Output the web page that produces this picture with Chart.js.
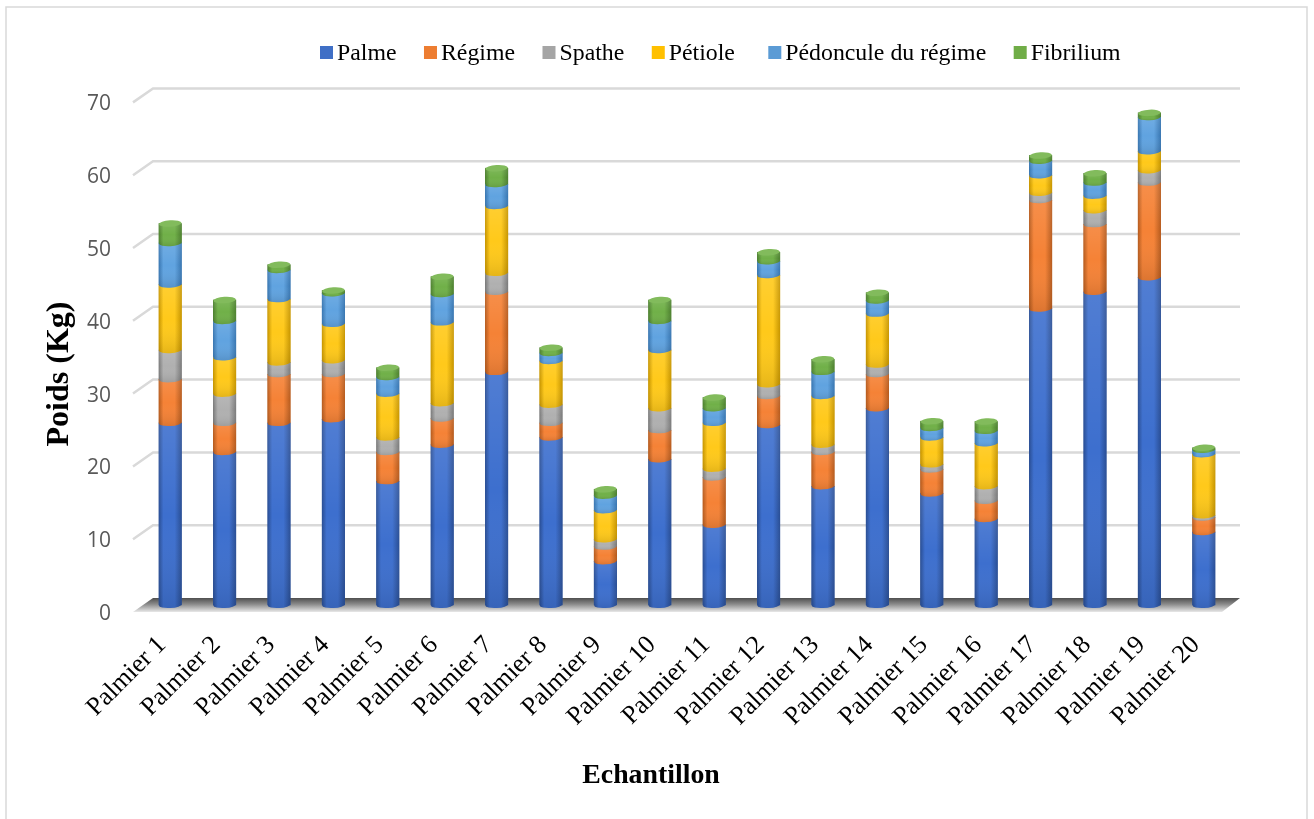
<!DOCTYPE html>
<html lang="fr">
<head>
<meta charset="utf-8">
<title>Poids par palmier</title>
<script src="https://cdn.jsdelivr.net/npm/chart.js@4"></script>
<style>
  body { margin: 0; background: #fff; }
  canvas { display: block; }
</style>
</head>
<body>
<canvas id="poidsChart" width="1314" height="819"></canvas>
<script>
const categories = ['Palmier 1', 'Palmier 2', 'Palmier 3', 'Palmier 4', 'Palmier 5', 'Palmier 6', 'Palmier 7', 'Palmier 8', 'Palmier 9', 'Palmier 10',
  'Palmier 11', 'Palmier 12', 'Palmier 13', 'Palmier 14', 'Palmier 15', 'Palmier 16', 'Palmier 17', 'Palmier 18', 'Palmier 19', 'Palmier 20'];
const palme = [25, 21, 25, 25.5, 17, 22, 32, 23, 6, 20, 11, 24.7, 16.3, 27, 15.3, 11.8, 40.7, 43, 45, 10];
const regime = [6, 4, 6.7, 6.2, 4, 3.6, 11, 2, 2, 4, 6.5, 4, 4.7, 4.7, 3.3, 2.5, 14.9, 9.3, 13, 2];
const spathe = [4, 4, 1.6, 1.9, 2, 2.1, 2.6, 2.5, 1, 3, 1.2, 1.6, 1, 1.3, 0.7, 2, 1, 1.9, 1.7, 0.3];
const petiole = [9, 5, 8.7, 5, 6, 11.1, 9.2, 6, 4, 8, 6.3, 15, 6.7, 7, 3.7, 5.9, 2.4, 2, 2.6, 8.4];
const pedoncule = [5.7, 5, 4, 4.2, 2.3, 3.9, 3, 1.1, 2, 4, 2, 1.9, 3.3, 1.8, 1.3, 1.7, 2, 1.8, 4.7, 0.6];
const fibrilium = [2.7, 2.9, 0.75, 0.4, 1.3, 2.4, 2.2, 0.75, 0.9, 2.9, 1.5, 1.25, 1.75, 1.1, 0.95, 1.3, 0.75, 1.3, 0.6, 0.3];
const yTicks = [0, 10, 20, 30, 40, 50, 60, 70];

const SERIF = '"Liberation Serif", serif';
const BAR_W = 22.5;

// each colour is [edge, centre] of the cylinder
function cylinder(edge, centre) {
  return function (c) {
    const x = c.chart.scales.x.getPixelForValue(c.dataIndex);
    if (!Number.isFinite(x)) return centre; // scales not laid out yet
    const g = c.chart.ctx.createLinearGradient(x - BAR_W / 2, 0, x + BAR_W / 2, 0);
    g.addColorStop(0, edge);
    g.addColorStop(0.2, centre);
    g.addColorStop(0.7, centre);
    g.addColorStop(1, edge);
    return g;
  };
}

function serie(label, data, edge, centre, legendColor, capColor) {
  return {
    label: label, data: data, yAxisID: 'y',
    backgroundColor: cylinder(edge, centre),
    barThickness: BAR_W, borderWidth: 0,
    legendColor: legendColor, capColor: capColor
  };
}

// back wall gridlines and the floor, offset from the bars' plane
const walls = {
  id: 'walls',
  beforeDatasetsDraw(chart) {
    const { ctx, chartArea: a, scales } = chart;
    const y = scales.y;
    ctx.save();
    ctx.strokeStyle = '#d9d9d9';
    ctx.lineWidth = 2.5;
    yTicks.forEach(v => {
      if (v === 0) return;
      const p = y.getPixelForValue(v);
      ctx.beginPath();
      ctx.moveTo(a.left - 10, p + 7);
      ctx.lineTo(a.left + 10, p - 7);
      ctx.lineTo(a.right + 9, p - 7);
      ctx.stroke();
    });
    const p0 = y.getPixelForValue(0);
    const g = ctx.createLinearGradient(0, p0 - 7, 0, p0 + 7);
    g.addColorStop(0, '#4f4f4f');
    g.addColorStop(0.45, '#8c8c8c');
    g.addColorStop(1, '#e8e8e8');
    ctx.fillStyle = g;
    ctx.beginPath();
    ctx.moveTo(a.left + 10, p0 - 7);
    ctx.lineTo(a.right + 9, p0 - 7);
    ctx.lineTo(a.right - 9, p0 + 7);
    ctx.lineTo(a.left - 10, p0 + 7);
    ctx.closePath();
    ctx.fill();
    ctx.restore();
  }
};

// repaint each segment as a piece of cylinder, bottom one first, then the top caps
const rounds = {
  id: 'rounds',
  afterDatasetsDraw(chart) {
    const ctx = chart.ctx;
    const last = chart.data.datasets.length - 1;
    ctx.save();
    chart.data.datasets.forEach((ds, i) => {
      chart.getDatasetMeta(i).data.forEach(el => {
        const r = el.width / 2;
        ctx.beginPath();
        ctx.rect(el.x - r, el.y, el.width, el.base - el.y);
        ctx.ellipse(el.x, el.base, r, 3, -0.06, 0, Math.PI * 2);
        ctx.fillStyle = el.options.backgroundColor;
        ctx.fill();
        // lighter at the top of the segment, darker at its foot
        const shade = ctx.createLinearGradient(0, el.y, 0, el.base + 3);
        shade.addColorStop(0, 'rgba(255,255,255,0.1)');
        shade.addColorStop(0.5, 'rgba(255,255,255,0)');
        shade.addColorStop(1, 'rgba(0,0,0,0.1)');
        ctx.fillStyle = shade;
        ctx.fill();
        if (i === last) {
          ctx.fillStyle = ds.capColor;
          ctx.beginPath();
          ctx.ellipse(el.x, el.y, r, 3.2, -0.06, 0, Math.PI * 2);
          ctx.fill();
        }
      });
    });
    ctx.restore();
  }
};

// frame, legend row and axis titles
const texts = {
  id: 'texts',
  beforeDraw(chart) {
    const ctx = chart.ctx;
    ctx.save();
    ctx.strokeStyle = '#d9d9d9';
    ctx.lineWidth = 1.5;
    ctx.strokeRect(6, 7, 1301, 830);
    ctx.restore();
  },
  afterDraw(chart) {
    const ctx = chart.ctx;
    ctx.save();
    ctx.fillStyle = '#000';
    ctx.textBaseline = 'middle';
    ctx.font = '23.8px ' + SERIF;
    let x = 320;
    chart.data.datasets.forEach(ds => {
      ctx.fillStyle = ds.legendColor;
      ctx.fillRect(x, 46, 13, 13);
      ctx.fillStyle = '#000';
      ctx.textAlign = 'left';
      ctx.fillText(ds.label, x + 17, 54);
      x += 17 + ctx.measureText(ds.label).width + 27.5;
    });
    ctx.textAlign = 'center';
    ctx.font = 'bold 27.8px ' + SERIF;
    ctx.fillText('Echantillon', 651, 776);
    ctx.translate(60, 374);
    ctx.rotate(-Math.PI / 2);
    ctx.font = 'bold 32px ' + SERIF;
    ctx.fillText('Poids (Kg)', 0, 0);
    ctx.restore();
  }
};

new Chart(document.getElementById('poidsChart'), {
  type: 'bar',
  data: {
    labels: categories,
    datasets: [
      serie('Palme', palme, '#2a4f96', '#3d6fce', '#3f6fc6', '#4472c4'),
      serie('Régime', regime, '#b85c1e', '#f58236', '#ed7d31', '#f08a45'),
      serie('Spathe', spathe, '#7c7c7c', '#b0b0b0', '#a5a5a5', '#b5b5b5'),
      serie('Pétiole ', petiole, '#c99700', '#ffc91a', '#ffc000', '#ffcf3a'),
      serie('Pédoncule du régime', pedoncule, '#3a78b3', '#60a3e0', '#5b9bd5', '#74aee0'),
      serie('Fibrilium', fibrilium, '#4e8230', '#70b048', '#70ad47', '#82bb5c')
    ]
  },
  options: {
    responsive: false,
    animation: false,
    layout: { padding: { top: 88, right: 83, left: 0, bottom: 0 } },
    plugins: { legend: { display: false }, tooltip: { enabled: false } },
    scales: {
      x: {
        stacked: true,
        grid: { display: false },
        border: { display: false },
        afterFit(s) { s.height = 205; },
        ticks: {
          autoSkip: false, minRotation: 45, maxRotation: 45, padding: 8, labelOffset: -8,
          color: '#000', font: { family: SERIF, size: 26 }
        }
      },
      // plane of the bars: zero sits 9px above the bottom of the area
      y: {
        display: false, stacked: true,
        min: -1.236, max: 71.016
      },
      // front plane, only carries the labels
      yLabels: {
        axis: 'y', position: 'left',
        min: 0, max: 72.25,
        grid: { display: false },
        border: { display: false },
        afterFit(s) { s.width = 143; },
        ticks: {
          stepSize: 10, includeBounds: false, padding: 24,
          color: '#595959', font: { family: '"Open Sans", sans-serif', size: 21 }
        }
      }
    }
  },
  plugins: [walls, rounds, texts]
});
</script>
</body>
</html>
